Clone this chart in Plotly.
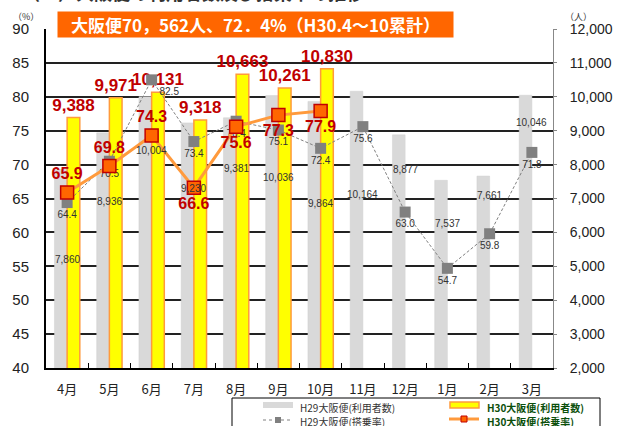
import plotly.graph_objects as go

months = ["4月", "5月", "6月", "7月", "8月", "9月", "10月", "11月", "12月", "1月", "2月", "3月"]
h29_users = [7860, 8936, 10004, 9230, 9381, 10036, 9864, 10164, 8877, 7537, 7661, 10046]
h30_users = [9388, 9971, 10131, 9318, 10663, 10261, 10830]
h29_rate = [64.4, 70.5, 82.5, 73.4, 76.4, 75.1, 72.4, 75.6, 63.0, 54.7, 59.8, 71.8]
h30_rate = [65.9, 69.8, 74.3, 66.6, 75.6, 77.3, 77.9]

title_text = "大阪便70，562人、72．4%（H30.4～10累計）"
header_text = "（２）大阪便の利用者数及び搭乗率の推移"
legend_names = ["H29大阪便(利用者数)", "H29大阪便(搭乗率)", "H30大阪便(利用者数)", "H30大阪便(搭乗率)"]

# label placement (styling only)
h29_user_label_shift = [-90, -69, -54, -66, -51, -82, -102, -103, -35, -43, -19, -27]
h29_rate_pos = ["bottom center", "bottom center", "bottom right", "bottom center", "bottom center",
                "bottom center", "bottom center", "bottom center", "bottom center", "bottom center",
                "bottom center", "bottom center"]
h30_rate_pos = ["top center", "top center", "top center", "bottom center", "bottom center",
                "bottom center", "bottom center"]

GREY_BAR = "#D9D9D9"
YELLOW = "#FFFF00"
ORANGE_LINE = "#FF9A3C"
ORANGE_MK = "#FF6600"
DARK_RED = "#C00000"
GREY_LINE = "#808080"
GREEN_TXT = "#0B4F0B"

fmt = lambda v: f"{v:,}"

fig = go.Figure()
fig.add_trace(go.Bar(
    x=months, y=h29_users, name=legend_names[0],
    marker=dict(color=GREY_BAR, line=dict(color="#D0D0D0", width=0.5)),
    yaxis="y",
))
fig.add_trace(go.Bar(
    x=months[:len(h30_users)], y=h30_users, name=legend_names[2],
    marker=dict(color=YELLOW, line=dict(color=ORANGE_LINE, width=1.5)),
    text=[fmt(v) for v in h30_users], textposition="outside",
    textfont=dict(color=DARK_RED, size=17, family="Liberation Sans, Arial", weight="bold"),
    constraintext="none", cliponaxis=False,
    yaxis="y",
))
fig.add_trace(go.Scatter(
    x=months, y=h29_rate, name=legend_names[1], mode="lines+markers+text",
    line=dict(color=GREY_LINE, width=1, dash="3px,2px"),
    marker=dict(symbol="square", size=11, color=GREY_LINE),
    text=[f"{v:.1f}" for v in h29_rate], textposition=h29_rate_pos,
    textfont=dict(color="#333333", size=10, family="Liberation Sans, Arial"),
    yaxis="y2", cliponaxis=False,
))
fig.add_trace(go.Scatter(
    x=months[:len(h30_rate)], y=h30_rate, name=legend_names[3],
    mode="lines+markers+text",
    line=dict(color=ORANGE_LINE, width=3),
    marker=dict(symbol="square", size=13, color=ORANGE_MK, line=dict(color=DARK_RED, width=1.5)),
    text=[f"{v:.1f}" for v in h30_rate], textposition=h30_rate_pos,
    textfont=dict(color=DARK_RED, size=16, family="Liberation Sans, Arial", weight="bold"),
    yaxis="y2", cliponaxis=False,
))

# pixel -> paper helpers (plot area: x 46..553, y 29..368)
px = lambda x: (x - 46) / 507
py = lambda y: (368 - y) / 339

annotations = []
for m, v, s in zip(months, h29_users, h29_user_label_shift):
    annotations.append(dict(x=m, y=v, xref="x", yref="y", text=fmt(v), showarrow=False,
                            yshift=s, font=dict(size=10, color="#333333", family="Liberation Sans, Arial")))
annotations.append(dict(x=px(255.5), y=py(24.5), xref="paper", yref="paper", text=f"<b>{title_text}</b>",
                        showarrow=False, bgcolor=ORANGE_MK, width=393, height=23,
                        font=dict(size=17, color="white", family="Noto Sans CJK JP"),
                        xanchor="center", yanchor="middle"))
annotations.append(dict(x=px(41), y=py(17), xref="paper", yref="paper", text="（%）", showarrow=False,
                        xanchor="right", yanchor="middle",
                        font=dict(size=9, color="#333333", family="Noto Sans CJK JP")))
annotations.append(dict(x=px(563), y=py(16), xref="paper", yref="paper", text="（人）", showarrow=False,
                        xanchor="left", yanchor="middle",
                        font=dict(size=9, color="#333333", family="Noto Sans CJK JP")))
annotations.append(dict(x=px(20), y=py(7), xref="paper", yref="paper", text=f"<b>{header_text}</b>",
                        showarrow=False, xanchor="left", yanchor="bottom",
                        font=dict(size=18, color="#333333", family="Noto Sans CJK JP")))

# hand-built legend (two columns inside a framed box)
leg_rows = [(408, 421), (408, 421)]
leg_text_x = [298, 485]
leg_fonts = [dict(size=10, color="#333333", family="Noto Sans CJK JP"),
             dict(size=10, color=GREEN_TXT, family="Noto Sans CJK JP")]
for col in range(2):
    for row in range(2):
        name = legend_names[col * 2 + row]
        txt = f"<b>{name}</b>" if col == 1 else name
        annotations.append(dict(x=px(leg_text_x[col]), y=py(leg_rows[col][row]), xref="paper", yref="paper",
                                text=txt, showarrow=False, xanchor="left", yanchor="middle",
                                font=leg_fonts[col]))

shapes = [
    dict(type="rect", xref="paper", yref="paper", x0=px(232), x1=px(600), y0=py(440), y1=py(398),
         line=dict(color="black", width=1), fillcolor="rgba(0,0,0,0)"),
    # H29 bar swatch
    dict(type="rect", xref="paper", yref="paper", x0=px(263), x1=px(293), y0=py(408), y1=py(402),
         line=dict(width=0), fillcolor=GREY_BAR),
    # H29 rate swatch
    dict(type="line", xref="paper", yref="paper", x0=px(263), x1=px(293), y0=py(420), y1=py(420),
         line=dict(color=GREY_LINE, width=1, dash="dot")),
    dict(type="rect", xref="paper", yref="paper", x0=px(275), x1=px(281), y0=py(423), y1=py(417),
         line=dict(width=0), fillcolor=GREY_LINE),
    # H30 bar swatch
    dict(type="rect", xref="paper", yref="paper", x0=px(450), x1=px(479), y0=py(408), y1=py(402),
         line=dict(color=ORANGE_LINE, width=1.5), fillcolor=YELLOW),
    # H30 rate swatch
    dict(type="line", xref="paper", yref="paper", x0=px(449), x1=px(479), y0=py(419), y1=py(419),
         line=dict(color=ORANGE_LINE, width=3)),
    dict(type="rect", xref="paper", yref="paper", x0=px(461), x1=px(467), y0=py(422), y1=py(416),
         line=dict(color=DARK_RED, width=1), fillcolor=ORANGE_MK),
]

fig.update_layout(
    width=619, height=426,
    margin=dict(l=46, r=66, t=29, b=58, autoexpand=False),
    paper_bgcolor="white", plot_bgcolor="white",
    barmode="group", bargap=0.4, bargroupgap=0,
    font=dict(family="Noto Sans CJK JP, Liberation Sans", color="#222222"),
    xaxis=dict(
        type="category", range=[-0.5, 11.5], showline=True, linecolor="black", linewidth=2,
        ticks="inside", tickson="boundaries", ticklen=5, tickcolor="black",
        tickfont=dict(size=13, color="#222222", family="Noto Sans CJK JP"),
        ticklabelstandoff=8, showgrid=False, automargin=False,
    ),
    yaxis=dict(
        range=[2000, 12000], dtick=1000, side="right",
        tickformat=",d", showline=True, linecolor="#888888", linewidth=1,
        ticks="outside", ticklen=3, tickcolor="#888888",
        showgrid=True, gridcolor="#222222", gridwidth=1.5,
        tickfont=dict(size=14, color="#222222", family="Liberation Sans Narrow, Liberation Sans"),
        ticklabelstandoff=10, zeroline=False, automargin=False,
    ),
    yaxis2=dict(
        range=[40, 90], dtick=5, side="left", overlaying="y",
        showline=True, linecolor="black", linewidth=2, showgrid=False,
        tickfont=dict(size=15, color="#222222", family="Liberation Sans"),
        ticklabelstandoff=12, zeroline=False, automargin=False,
    ),
    showlegend=False,
    shapes=shapes,
    annotations=annotations,
)

fig.write_html("out.html", config={"displayModeBar": False},
               post_script="document.body.style.margin='0';document.body.style.padding='0';document.body.style.overflow='hidden';")
